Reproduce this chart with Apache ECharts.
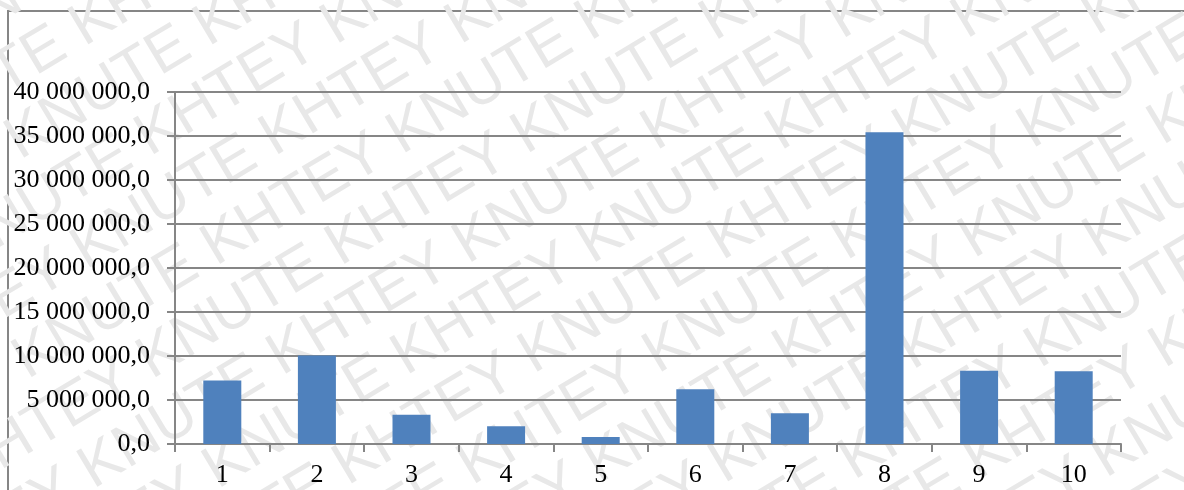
<!DOCTYPE html>
<html>
<head>
<meta charset="utf-8">
<style>
  html, body { margin: 0; padding: 0; background: #ffffff; }
  #chart { width: 1184px; height: 490px; }
</style>
<script src="https://cdn.jsdelivr.net/npm/echarts@6/dist/echarts.min.js"></script>
</head>
<body>
<div id="chart"></div>
<script>
// Categories and values of the bar series
const categories = ['1', '2', '3', '4', '5', '6', '7', '8', '9', '10'];
const values = [7230000, 10050000, 3330000, 2010000, 800000, 6210000, 3490000, 35420000, 8330000, 8260000];
const yMin = 0;
const yMax = 40000000;
const yStep = 5000000;

// Watermark words
const watermarkWords = ['KHTEY', 'KNUTE'];

// "40 000 000,0" style formatting: space thousands separators, comma decimal
function formatNumber(v) {
  const s = Math.round(v).toString().replace(/\B(?=(\d{3})+(?!\d))/g, ' ');
  return s + ',0';
}

// Diagonal repeating watermark behind the plot
function buildWatermark() {
  const rows = [];
  const lineGap = 64;
  for (let i = -12; i <= 12; i++) {
    let txt = '';
    for (let k = 0; k < 12; k++) {
      txt += watermarkWords[(k + i + 100) % 2] + ' ';
    }
    rows.push({
      type: 'text',
      x: -1100 + ((i % 2) ? 110 : 0),
      y: i * lineGap,
      style: {
        text: txt,
        fontFamily: 'Liberation Sans',
        fontSize: 60,
        fill: '#e8e8e8',
        textVerticalAlign: 'middle'
      },
      silent: true
    });
  }
  return {
    type: 'group',
    x: 592,
    y: 245,
    rotation: 31 * Math.PI / 180,
    z: -10,
    children: rows
  };
}

const chart = echarts.init(document.getElementById('chart'), null, { renderer: 'canvas' });

const axisFont = { fontFamily: 'Liberation Serif', fontSize: 26, color: '#000000' };

chart.setOption({
  backgroundColor: '#ffffff',
  animation: false,
  graphic: [
    buildWatermark(),
    {
      type: 'rect',
      shape: { x: 8, y: 11, width: 1400, height: 700 },
      style: { fill: 'none', stroke: '#868686', lineWidth: 2 },
      z: -5,
      silent: true
    }
  ],
  grid: { left: 175, right: 63, top: 92, bottom: 46, containLabel: false },
  xAxis: {
    type: 'category',
    data: categories,
    axisLine: { show: true, lineStyle: { color: '#868686', width: 2 } },
    axisTick: { show: true, length: 8, lineStyle: { color: '#868686', width: 2 } },
    axisLabel: Object.assign({ margin: 18 }, axisFont)
  },
  yAxis: {
    type: 'value',
    min: yMin,
    max: yMax,
    interval: yStep,
    axisLine: { show: true, lineStyle: { color: '#868686', width: 2 } },
    axisTick: { show: true, length: 8, lineStyle: { color: '#868686', width: 2 } },
    splitLine: { show: true, lineStyle: { color: '#868686', width: 2 } },
    axisLabel: Object.assign({ margin: 25, formatter: formatNumber }, axisFont)
  },
  series: [{
    type: 'bar',
    data: values,
    barWidth: 38,
    itemStyle: { color: '#4f81bd' }
  }]
});
</script>
</body>
</html>
